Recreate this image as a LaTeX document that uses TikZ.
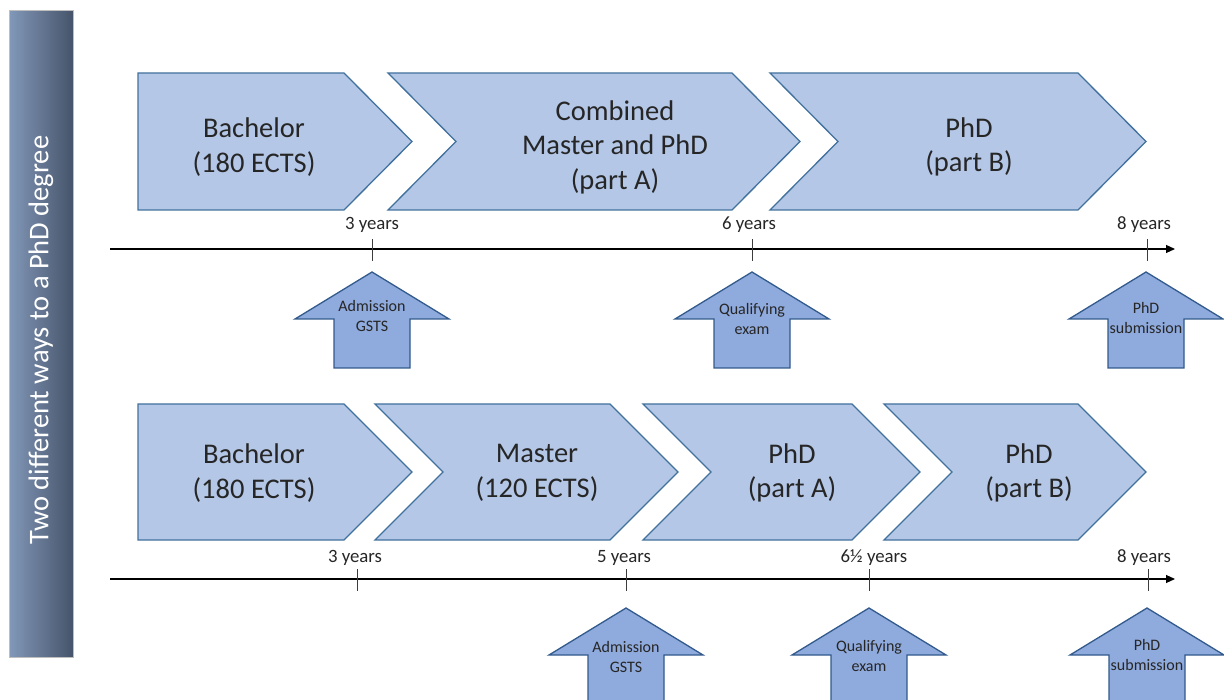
\documentclass[tikz,border=0pt]{standalone}
\usepackage{fontspec}
\setmainfont{Carlito}
\usetikzlibrary{arrows.meta}
\definecolor{chevfill}{RGB}{180,199,231}
\definecolor{chevline}{RGB}{65,113,156}
\definecolor{arrfill}{RGB}{143,170,220}
\definecolor{arrline}{RGB}{50,90,140}
\definecolor{barL}{RGB}{130,152,185}
\definecolor{barR}{RGB}{70,84,106}
\definecolor{barB}{RGB}{190,190,190}
\definecolor{tickc}{RGB}{60,60,60}
\begin{document}
\begin{tikzpicture}[x=1pt,y=-1pt,
  chev/.style={draw=chevline,fill=chevfill,line width=1.3pt,line join=miter},
  uparr/.style={draw=arrline,fill=arrfill,line width=1.3pt,line join=miter},
  big/.style={align=center,font=\fontsize{28.5}{34.5}\selectfont,text=black!85},
  yrs/.style={font=\fontsize{18.8}{22}\selectfont,text=black!85,inner sep=0pt},
  small/.style={align=center,font=\fontsize{16}{19.5}\selectfont,text=black!85,inner sep=0pt},
  timeline/.style={line width=1.1pt,-{Triangle[length=9pt,width=8pt]}},
  tickmark/.style={draw=tickc,line width=0.9pt},
  upa/.pic={\path[uparr] (0,0) -- (77,47) -- (38,47) -- (38,96) -- (-38,96) -- (-38,47) -- (-77,47) -- cycle;}
]
\useasboundingbox (0,0) rectangle (1224,700);
\clip (0,0) rectangle (1224,700);
% side bar
\shade[left color=barL,right color=barR] (9,11) rectangle (73,657);
\draw[barB,line width=1pt] (9,11) rectangle (73,657);
\node[rotate=90,text=white,font=\fontsize{28.5}{34}\selectfont] (title) at (41,340) {Two different ways to a PhD degree};

% ---------- top row ----------
\path[chev] (138,73) -- (344,73) -- (412,141.5) -- (344,210) -- (138,210) -- cycle;
\path[chev] (388,73) -- (732,73) -- (800,141.5) -- (732,210) -- (388,210) -- (456,141.5) -- cycle;
\path[chev] (770,73) -- (1078,73) -- (1146,141.5) -- (1078,210) -- (770,210) -- (838,141.5) -- cycle;
\node[big] (tb) at (254,147) {Bachelor\\(180 ECTS)};
\node[big] (tc) at (615,147) {Combined\\Master and PhD\\(part A)};
\node[big] (tp) at (969,147) {PhD\\(part B)};

\coordinate (t1s) at (110,249);
\coordinate (t1e) at (1175,249);
\draw[timeline] (t1s) -- (t1e);
\draw[tickmark] (372,239) -- (372,261);
\draw[tickmark] (752,239) -- (752,261);
\draw[tickmark] (1147,239) -- (1147,261);
\node[yrs] (y1a) at (372,225) {3 years};
\node[yrs] (y1b) at (749,225) {6 years};
\node[yrs] (y1c) at (1144,225) {8 years};

\pic at (372,272) {upa};
\pic at (752,272) {upa};
\pic at (1146,272) {upa};
\node[small] (a1a) at (372,316) {Admission\\GSTS};
\node[small] (a1b) at (752,319) {Qualifying\\exam};
\node[small] (a1c) at (1146,318) {PhD\\submission};

% ---------- bottom row ----------
\path[chev] (138,404) -- (344,404) -- (412,472) -- (344,540) -- (138,540) -- cycle;
\path[chev] (375,404) -- (610,404) -- (678,472) -- (610,540) -- (375,540) -- (443,472) -- cycle;
\path[chev] (643,404) -- (852,404) -- (920,472) -- (852,540) -- (643,540) -- (711,472) -- cycle;
\path[chev] (884,404) -- (1078,404) -- (1146,472) -- (1078,540) -- (884,540) -- (952,472) -- cycle;
\node[big] (bb) at (254,473) {Bachelor\\(180 ECTS)};
\node[big] (bm) at (537,473) {Master\\(120 ECTS)};
\node[big] (bpa) at (792,473) {PhD\\(part A)};
\node[big] (bpb) at (1029,473) {PhD\\(part B)};

\coordinate (t2s) at (110,579);
\coordinate (t2e) at (1175,579);
\draw[timeline] (t2s) -- (t2e);
\draw[tickmark] (357,569) -- (357,591);
\draw[tickmark] (626,569) -- (626,591);
\draw[tickmark] (869,569) -- (869,591);
\draw[tickmark] (1148,569) -- (1148,591);
\node[yrs] (y2a) at (355,558) {3 years};
\node[yrs] (y2b) at (624,558) {5 years};
\node[yrs] (y2c) at (874,558) {6½ years};
\node[yrs] (y2d) at (1144,558) {8 years};

\pic at (626,608) {upa};
\pic at (869,608) {upa};
\pic at (1147,608) {upa};
\node[small] (a2a) at (626,657) {Admission\\GSTS};
\node[small] (a2b) at (869,656) {Qualifying\\exam};
\node[small] (a2c) at (1147,655) {PhD\\submission};
\end{tikzpicture}
\end{document}
